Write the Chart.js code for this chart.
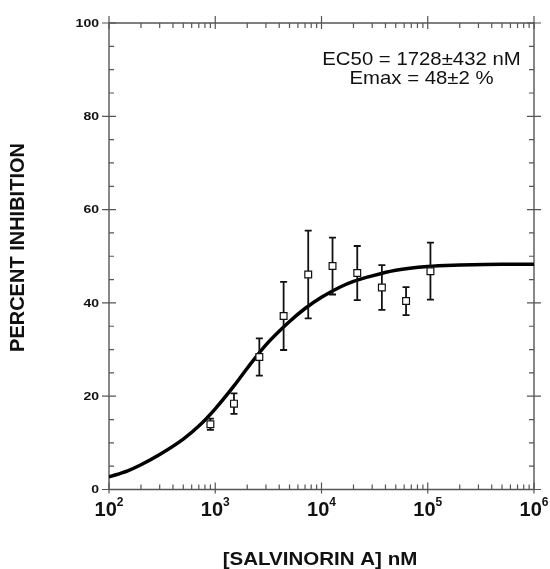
<!DOCTYPE html>
<html>
<head>
<meta charset="utf-8">
<script src="https://cdn.jsdelivr.net/npm/chart.js@4"></script>
<style>
  html, body { margin: 0; padding: 0; background: #fff; }
  canvas { display: block; }
</style>
</head>
<body>
<canvas id="chart" width="550" height="569"></canvas>
<script>
// Fitted curve.
var curveX = [100, 150, 200, 300, 500, 700, 1000, 1500, 2000, 3000, 5000, 7000,
              10000, 15000, 20000, 30000, 50000, 100000, 200000, 500000, 1000000];
var curveY = [2.7, 4.0, 5.3, 7.5, 10.8, 13.6, 17.3, 22.2, 26.0, 31.0, 36.0, 38.8,
              41.2, 43.4, 44.6, 45.8, 47.0, 47.8, 48.1, 48.3, 48.3];

// Measured points (mean +/- error).
var doseX = [900, 1500, 2600, 4400, 7500, 12700, 21700, 37000, 62500, 106000];
var meanY = [14.0, 18.4, 28.4, 37.2, 46.1, 47.9, 46.4, 43.3, 40.4, 46.8];
var errY = [1.2, 2.2, 4.0, 7.3, 9.4, 6.1, 5.8, 4.8, 3.0, 6.1];

// Axis ticks.
var xDecades = [100, 1000, 10000, 100000, 1000000];
var xExponents = ['2', '3', '4', '5', '6'];
var yTicks = [0, 20, 40, 60, 80, 100];

var xTitle = '[SALVINORIN A] nM';
var yTitle = 'PERCENT INHIBITION';
var noteLines = ['EC50 = 1728\u00b1432 nM', 'Emax = 48\u00b12 %'];

var FONT = '"Liberation Sans", Arial, Helvetica, sans-serif';

// Build the datasets from the arrays above.
var curveData = curveX.map(function(x, i) { return {x: x, y: curveY[i]}; });
var pointData = doseX.map(function(x, i) { return {x: x, y: meanY[i]}; });
var errData = [];
doseX.forEach(function(x, i) {
    errData.push({x: x, y: meanY[i] - errY[i]});
    errData.push({x: x, y: meanY[i] + errY[i]});
    errData.push({x: x, y: null});
});

// Text drawn with a horizontal stretch, like the original figure.
function stretchText(ctx, s, x, y, font, align, sx) {
    ctx.save();
    ctx.translate(x, y);
    ctx.scale(sx, 1);
    ctx.font = font;
    ctx.textAlign = align;
    ctx.fillText(s, 0, 0);
    ctx.restore();
}

var axesPlugin = {
    id: 'axesPlugin',
    beforeDatasetsDraw: function(chart) {
        var ctx = chart.ctx;
        var a = chart.chartArea;
        var xs = chart.scales.x;
        var ys = chart.scales.y;
        ctx.save();
        ctx.strokeStyle = '#555';
        ctx.lineWidth = 1.4;
        ctx.beginPath();
        ctx.rect(a.left, a.top, a.right - a.left, a.bottom - a.top);
        ctx.stroke();

        ctx.lineWidth = 1.2;
        ctx.beginPath();
        // y ticks: majors cross the axis, minors point inward
        for (var v = 0; v <= 100; v += 5) {
            var py = ys.getPixelForValue(v);
            if (v % 20 === 0) {
                ctx.moveTo(a.left - 7, py); ctx.lineTo(a.left + 7, py);
                ctx.moveTo(a.right - 7, py); ctx.lineTo(a.right + 7, py);
            } else {
                ctx.moveTo(a.left, py); ctx.lineTo(a.left + 5, py);
                ctx.moveTo(a.right - 5, py); ctx.lineTo(a.right, py);
            }
        }
        // x ticks on a log scale
        xDecades.forEach(function(d, i) {
            var px = xs.getPixelForValue(d);
            ctx.moveTo(px, a.bottom - 7); ctx.lineTo(px, a.bottom + 4);
            ctx.moveTo(px, a.top - 7); ctx.lineTo(px, a.top + 6);
            if (i < xDecades.length - 1) {
                for (var m = 2; m <= 9; m++) {
                    var pm = xs.getPixelForValue(d * m);
                    ctx.moveTo(pm, a.bottom - 5); ctx.lineTo(pm, a.bottom);
                    ctx.moveTo(pm, a.top); ctx.lineTo(pm, a.top + 5);
                }
            }
        });
        ctx.stroke();
        ctx.restore();
    },
    afterDraw: function(chart) {
        var ctx = chart.ctx;
        var a = chart.chartArea;
        var xs = chart.scales.x;
        var ys = chart.scales.y;
        ctx.save();
        ctx.fillStyle = '#111';

        // y tick labels
        ctx.textBaseline = 'middle';
        yTicks.forEach(function(v) {
            stretchText(ctx, String(v), a.left - 10, ys.getPixelForValue(v) + 0.5,
                'bold 11.5px ' + FONT, 'right', 1.22);
        });

        // x tick labels: 10 with superscript exponent
        ctx.textBaseline = 'alphabetic';
        xDecades.forEach(function(d, i) {
            var px = xs.getPixelForValue(d);
            ctx.font = 'bold 20px ' + FONT;
            var w1 = ctx.measureText('10').width;
            ctx.font = 'bold 12px ' + FONT;
            var w2 = ctx.measureText(xExponents[i]).width;
            var x0 = px - (w1 + w2) / 2;
            stretchText(ctx, '10', x0, a.bottom + 26, 'bold 20px ' + FONT, 'left', 1);
            stretchText(ctx, xExponents[i], x0 + w1, a.bottom + 16, 'bold 12px ' + FONT, 'left', 1);
        });

        // axis titles
        stretchText(ctx, xTitle, 320, 565, 'bold 19px ' + FONT, 'center', 1.08);
        ctx.save();
        ctx.translate(24, 247.5);
        ctx.rotate(-Math.PI / 2);
        ctx.font = 'bold 20px ' + FONT;
        ctx.textAlign = 'center';
        ctx.fillText(yTitle, 0, 0);
        ctx.restore();

        // fit results
        stretchText(ctx, noteLines[0], 421.5, 65, '18.5px ' + FONT, 'center', 1.1);
        stretchText(ctx, noteLines[1], 421.5, 83.5, '18.5px ' + FONT, 'center', 1.1);
        ctx.restore();
    }
};

new Chart(document.getElementById('chart'), {
    type: 'scatter',
    data: {
        datasets: [
            {
                // squares on top
                data: pointData,
                order: 0,
                pointStyle: 'rect',
                pointRadius: 4.8,
                pointBackgroundColor: '#fff',
                pointBorderColor: '#111',
                pointBorderWidth: 1.2,
                showLine: false
            },
            {
                // error bars with caps
                data: errData,
                order: 1,
                showLine: true,
                spanGaps: false,
                borderColor: '#111',
                borderWidth: 1.8,
                pointStyle: 'line',
                pointRadius: 3.5,
                pointBorderColor: '#111',
                pointBorderWidth: 1.8
            },
            {
                // fitted curve
                data: curveData,
                order: 2,
                showLine: true,
                borderColor: '#000',
                borderWidth: 3.5,
                cubicInterpolationMode: 'monotone',
                pointRadius: 0
            }
        ]
    },
    options: {
        responsive: false,
        animation: false,
        events: [],
        layout: {
            padding: {left: 109, right: 16, top: 23, bottom: 79.5}
        },
        scales: {
            x: {type: 'logarithmic', min: 100, max: 1000000, display: false},
            y: {type: 'linear', min: 0, max: 100, display: false}
        },
        plugins: {
            legend: {display: false},
            tooltip: {enabled: false}
        }
    },
    plugins: [axesPlugin]
});
</script>
</body>
</html>
